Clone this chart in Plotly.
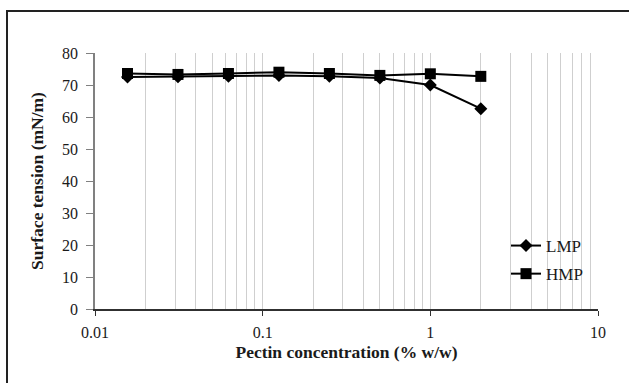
import plotly.graph_objects as go

conc = [0.015625, 0.03125, 0.0625, 0.125, 0.25, 0.5, 1, 2]
lmp = [72.5, 72.6, 72.7, 73.0, 72.7, 72.2, 70.0, 62.6]
hmp = [73.6, 73.3, 73.6, 74.0, 73.6, 73.0, 73.5, 72.7]
x_ticks = [0.01, 0.1, 1, 10]
x_tick_labels = ["0.01", "0.1", "1", "10"]
y_ticks = [0, 10, 20, 30, 40, 50, 60, 70, 80]

W, H = 629, 383
L, R, T, B = 95, 31, 53, 74
pw, ph = W - L - R, H - T - B

def px(x):
    return (x - L) / pw

def py(y):
    return (H - B - y) / ph

minor_vals = [m * 10 ** e for e in (-2, -1, 0) for m in range(2, 10)]

fig = go.Figure()
fig.add_trace(go.Scatter(x=conc, y=lmp, name="LMP", mode="lines+markers",
                         line=dict(color="black", width=2),
                         marker=dict(symbol="diamond", size=10, color="black"),
                         legendgroup="a"))
fig.add_trace(go.Scatter(x=conc, y=hmp, name="HMP", mode="lines+markers",
                         line=dict(color="black", width=2),
                         marker=dict(symbol="square", size=11, color="black"),
                         legendgroup="b"))

tick_font = dict(family="Liberation Serif", size=16, color="#1a1a1a")
title_font = dict(family="Liberation Serif", size=17.5, color="#1a1a1a")

fig.update_layout(
    width=W, height=H,
    margin=dict(l=L, r=R, t=T, b=B),
    paper_bgcolor="white", plot_bgcolor="white",
    font=tick_font,
    showlegend=True,
    legend=dict(x=px(506), y=py(228), xanchor="left", yanchor="top",
                bgcolor="rgba(0,0,0,0)", tracegroupgap=3,
                font=dict(family="Liberation Serif", size=17, color="#1a1a1a")),
    xaxis=dict(type="log", range=[-2, 1], tickvals=x_ticks, ticktext=x_tick_labels,
               tickfont=tick_font, ticklabelstandoff=3,
               showgrid=True, gridcolor="#cfcfcf", gridwidth=1,
               showline=True, linecolor="#303030", linewidth=1.5,
               ticks="outside", ticklen=5, tickcolor="#303030",
               minor=dict(tickvals=minor_vals, showgrid=True, gridcolor="#cfcfcf",
                          gridwidth=1, ticks=""),
               zeroline=False,
               title=dict(text="<b>Pectin concentration (% w/w)</b>",
                          font=title_font, standoff=6)),
    yaxis=dict(range=[0, 80], tickvals=y_ticks, showgrid=False,
               tickfont=tick_font, ticklabelstandoff=5,
               showline=True, linecolor="#808080", linewidth=1.5,
               ticks="outside", ticklen=7, tickcolor="#808080",
               zeroline=False,
               title=dict(text="<b>Surface tension (mN/m)</b>",
                          font=title_font, standoff=14)),
)

fig.add_shape(type="rect", xref="paper", yref="paper",
              x0=px(7), x1=px(700), y0=py(450), y1=py(11),
              line=dict(color="#222222", width=2), fillcolor="rgba(0,0,0,0)",
              layer="above")

fig.write_html("out.html")
